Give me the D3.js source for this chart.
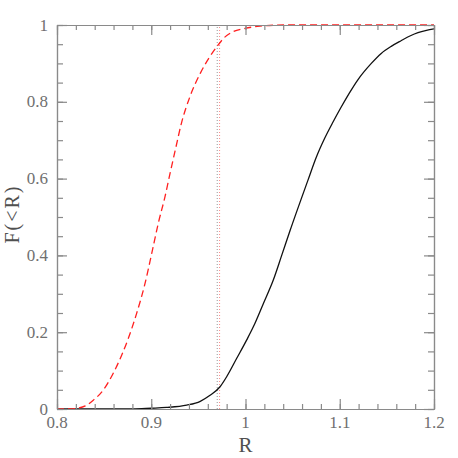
<!DOCTYPE html>
<html>
<head>
<meta charset="utf-8">
<script src="https://cdn.jsdelivr.net/npm/d3@7"></script>
<style>
  body { margin: 0; background: #fff; }
</style>
</head>
<body>
<div id="chart"></div>
<script>
// cumulative distributions
let redR = [0.800, 0.815, 0.822, 0.830, 0.8385, 0.849, 0.859, 0.8686, 0.8757, 0.8845, 0.8934,
  0.9005, 0.9075, 0.9146, 0.920, 0.926, 0.932, 0.941, 0.952, 0.962, 0.971, 0.977,
  0.984, 0.9995, 1.0154, 1.042, 1.200];
let redF = [0, 0, 0.002, 0.008, 0.023, 0.049, 0.090, 0.140, 0.184, 0.249, 0.327,
  0.405, 0.484, 0.553, 0.614, 0.680, 0.744, 0.813, 0.874, 0.917, 0.948, 0.966,
  0.979, 0.991, 0.997, 1.0, 1.0];

let blackR = [0.800, 0.880, 0.900, 0.916, 0.9376, 0.952, 0.962, 0.973, 0.980, 0.9907, 1.0013,
  1.0083, 1.019, 1.0295, 1.0384, 1.0472, 1.0663, 1.075, 1.084, 1.093, 1.1017, 1.110,
  1.1194, 1.1335, 1.144, 1.155, 1.165, 1.175, 1.183, 1.192, 1.200];
let blackF = [0, 0.000, 0.002, 0.004, 0.010, 0.020, 0.035, 0.058, 0.084, 0.132, 0.180,
  0.214, 0.275, 0.336, 0.400, 0.464, 0.596, 0.655, 0.705, 0.748, 0.787, 0.822,
  0.858, 0.900, 0.926, 0.945, 0.959, 0.972, 0.980, 0.986, 0.990];

let markerR = [0.970, 0.9725];
let xTicks = [0.8, 0.9, 1, 1.1, 1.2];
let yTicks = [0, 0.2, 0.4, 0.6, 0.8, 1];

let width = 458, height = 458;
let plotLeft = 57, plotRight = 434, plotTop = 25, plotBottom = 409;
let axisColor = '#8a8a8a';
let font = "'Liberation Serif', 'Times New Roman', serif";

let svg = d3.select('#chart')
.append('svg')
.attr('width', width)
.attr('height', height);

let x = d3.scaleLinear().domain([0.8, 1.2]).range([plotLeft, plotRight]);
let y = d3.scaleLinear().domain([0, 1]).range([plotBottom, plotTop]);

// vertical dotted markers
svg.append('line')
.attr('x1', x(markerR[0])).attr('x2', x(markerR[0]))
.attr('y1', y(0)).attr('y2', y(1))
.attr('stroke', '#999')
.attr('stroke-width', 1)
.attr('stroke-dasharray', '1,2');
svg.append('line')
.attr('x1', x(markerR[1])).attr('x2', x(markerR[1]))
.attr('y1', y(0)).attr('y2', y(1))
.attr('stroke', '#f88')
.attr('stroke-width', 1)
.attr('stroke-dasharray', '1,2');

let line = d3.line()
.curve(d3.curveMonotoneX)
.x(d => x(d[0]))
.y(d => y(d[1]));

svg.append('path')
.datum(d3.zip(blackR, blackF))
.attr('d', line)
.attr('fill', 'none')
.attr('stroke', '#111')
.attr('stroke-width', 1.3);

svg.append('path')
.datum(d3.zip(redR, redF))
.attr('d', line)
.attr('fill', 'none')
.attr('stroke', '#ff2020')
.attr('stroke-width', 1.3)
.attr('stroke-dasharray', '7,4');

// frame with inward ticks on all sides
function drawAxis(axis, tx, ty) {
  let g = svg.append('g')
  .attr('transform', 'translate(' + tx + ',' + ty + ')')
  .call(axis);
  g.selectAll('path, line').attr('stroke', axisColor).attr('stroke-width', 1.2);
  g.selectAll('text').remove();
  return g;
}

let xMinor = d3.range(0.8, 1.2001, 0.02);
let yMinor = d3.range(0, 1.0001, 0.05);

drawAxis(d3.axisBottom(x).tickValues(xMinor).tickSize(-5).tickSizeOuter(0), 0, plotBottom);
drawAxis(d3.axisBottom(x).tickValues(xTicks).tickSize(-10).tickSizeOuter(0), 0, plotBottom);
drawAxis(d3.axisTop(x).tickValues(xMinor).tickSize(-5).tickSizeOuter(0), 0, plotTop);
drawAxis(d3.axisTop(x).tickValues(xTicks).tickSize(-10).tickSizeOuter(0), 0, plotTop);
drawAxis(d3.axisLeft(y).tickValues(yMinor).tickSize(-6).tickSizeOuter(0), plotLeft, 0);
drawAxis(d3.axisLeft(y).tickValues(yTicks).tickSize(-10).tickSizeOuter(0), plotLeft, 0);
drawAxis(d3.axisRight(y).tickValues(yMinor).tickSize(-6).tickSizeOuter(0), plotRight, 0);
drawAxis(d3.axisRight(y).tickValues(yTicks).tickSize(-10).tickSizeOuter(0), plotRight, 0);

// tick labels
svg.selectAll('.xlab')
.data(xTicks)
.enter()
.append('text')
.attr('x', d => x(d))
.attr('y', plotBottom + 19)
.attr('text-anchor', 'middle')
.attr('font-family', font)
.style('font-size', '17px')
.attr('fill', '#707070')
.text(d => d3.format('')(d));

svg.selectAll('.ylab')
.data(yTicks)
.enter()
.append('text')
.attr('x', plotLeft - 9)
.attr('y', d => y(d))
.attr('dy', '0.33em')
.attr('text-anchor', 'end')
.attr('font-family', font)
.style('font-size', '17px')
.attr('fill', '#707070')
.text(d => d3.format('')(d));

// axis titles
svg.append('text')
.attr('x', (plotLeft + plotRight) / 2)
.attr('y', 452)
.attr('text-anchor', 'middle')
.attr('font-family', font)
.style('font-size', '21px')
.attr('fill', '#505050')
.text('R');

svg.append('text')
.attr('transform', 'translate(19,' + 214 + ') rotate(-90)')
.attr('text-anchor', 'middle')
.attr('font-family', font)
.style('font-size', '20px')
.style('letter-spacing', '2px')
.attr('fill', '#505050')
.text('F(<R)');
</script>
</body>
</html>
